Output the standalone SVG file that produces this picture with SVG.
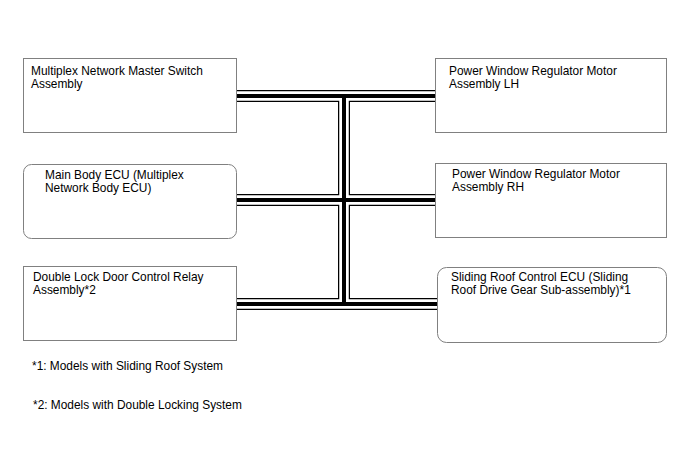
<svg xmlns="http://www.w3.org/2000/svg" width="688" height="463" viewBox="0 0 688 463">
<style>
.box{fill:#fff;stroke:#808080;stroke-width:1}
text{font-family:"Liberation Sans",Arial,sans-serif;font-size:11.9px;fill:#000}
.bo{fill:none;stroke:#000;stroke-width:12}
.bw{fill:none;stroke:#fff;stroke-width:9.5}
.bi{fill:none;stroke:#000;stroke-width:4}
</style>
<rect width="688" height="463" fill="#fff"/>
<g id="connectors">
<path class="bo" d="M236,96H435M344,96V304M236,200H435M236,304H437"/>
<path class="bw" d="M236,96H435M344,96V304M236,200H435M236,304H437"/>
<path class="bi" d="M236,96H435M344,96V304M236,200H435M236,304H437"/>
</g>
<g id="master-switch">
<rect class="box" x="23.5" y="58.5" width="213" height="74"/>
<text x="31" y="75">Multiplex Network Master Switch</text>
<text x="31" y="88">Assembly</text>
</g>
<g id="main-body-ecu">
<rect class="box" x="23.5" y="164.5" width="213" height="74" rx="8"/>
<text x="45" y="179">Main Body ECU (Multiplex</text>
<text x="45" y="192">Network Body ECU)</text>
</g>
<g id="double-lock">
<rect class="box" x="23.5" y="266.5" width="213" height="74"/>
<text x="33" y="281">Double Lock Door Control Relay</text>
<text x="33" y="294">Assembly*2</text>
</g>
<g id="pw-lh">
<rect class="box" x="435.5" y="58.5" width="231" height="74"/>
<text x="449" y="75">Power Window Regulator Motor</text>
<text x="449" y="88">Assembly LH</text>
</g>
<g id="pw-rh">
<rect class="box" x="435.5" y="163.5" width="231" height="74"/>
<text x="452" y="178">Power Window Regulator Motor</text>
<text x="452" y="191">Assembly RH</text>
</g>
<g id="sliding-roof">
<rect class="box" x="437.5" y="267.5" width="229" height="75" rx="9"/>
<text x="451" y="281">Sliding Roof Control ECU (Sliding</text>
<text x="451" y="294">Roof Drive Gear Sub-assembly)*1</text>
</g>
<g id="notes">
<text x="32" y="370">*1: Models with Sliding Roof System</text>
<text x="33" y="409">*2: Models with Double Locking System</text>
</g>
</svg>
